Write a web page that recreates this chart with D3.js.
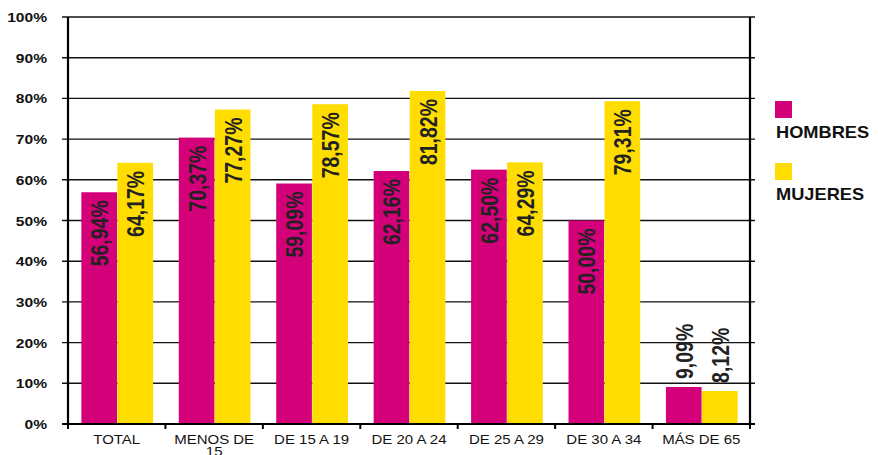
<!DOCTYPE html>
<html>
<head>
<meta charset="utf-8">
<script src="https://d3js.org/d3.v7.min.js"></script>
<style>
  body { margin: 0; background: #fff; }
  text { font-family: "Liberation Sans", Arial, sans-serif; }
</style>
</head>
<body>
<svg width="878" height="455"></svg>
<script>
// data
const categories = ["TOTAL", "MENOS DE 15", "DE 15 A 19", "DE 20 A 24", "DE 25 A 29", "DE 30 A 34", "MÁS DE 65"];
const hombres = [56.94, 70.37, 59.09, 62.16, 62.50, 50.00, 9.09];
const mujeres = [64.17, 77.27, 78.57, 81.82, 64.29, 79.31, 8.12];
const seriesNames = ["HOMBRES", "MUJERES"];
const colors = ["#d4007a", "#ffdd00"];
const yTicks = [0, 10, 20, 30, 40, 50, 60, 70, 80, 90, 100];

const svg = d3.select("svg");
const mLeft = 68, mRight = 750, mTop = 17, mBottom = 424;
const stretch = 1.2; // the original text looks widened horizontally

const x = d3.scaleBand().domain(categories).range([mLeft, mRight]).paddingInner(0).paddingOuter(0);
const inner = d3.scaleBand().domain(seriesNames).range([13, x.bandwidth() - 12]).padding(0.01);
const y = d3.scaleLinear().domain([0, 100]).range([mBottom, mTop]);

const fmt = v => v.toFixed(2).replace(".", ",") + "%";

// gridlines with outward ticks on both sides
svg.append("g").selectAll("line").data(yTicks.slice(1)).join("line")
  .attr("x1", mLeft - 6).attr("x2", mRight + 5)
  .attr("y1", d => y(d)).attr("y2", d => y(d))
  .attr("stroke", "#111").attr("stroke-width", 1.4);

// y labels
svg.append("g").selectAll("text").data(yTicks).join("text")
  .attr("transform", d => `translate(47,${y(d) + 5}) scale(${stretch},1)`)
  .attr("text-anchor", "end")
  .attr("font-size", 13).attr("font-weight", "bold").attr("fill", "#111")
  .text(d => d + "%");

// bars
const rows = categories.map((c, i) => ({ cat: c, vals: [hombres[i], mujeres[i]] }));
const groups = svg.append("g").selectAll("g").data(rows).join("g")
  .attr("transform", d => `translate(${x(d.cat)},0)`);

groups.selectAll("rect").data(d => d.vals.map((v, j) => ({ v, s: seriesNames[j], j })))
  .join("rect")
  .attr("x", d => inner(d.s))
  .attr("width", inner.bandwidth())
  .attr("y", d => y(d.v))
  .attr("height", d => y(0) - y(d.v))
  .attr("fill", d => colors[d.j]);

// value labels, rotated
groups.selectAll("text").data(d => d.vals.map((v, j) => ({ v, s: seriesNames[j], j })))
  .join("text")
  .attr("transform", d => {
    const cx = inner(d.s) + inner.bandwidth() / 2 + 9;
    const cy = d.v > 20 ? y(d.v) + 8 : y(d.v) - 8;
    return `translate(${cx},${cy}) scale(${stretch},1) rotate(-90)`;
  })
  .attr("text-anchor", d => d.v > 20 ? "end" : "start")
  .attr("font-size", 19.5).attr("font-weight", "bold").attr("fill", "#222")
  .text(d => fmt(d.v));

// axes lines
svg.append("line").attr("x1", mLeft).attr("x2", mLeft).attr("y1", mTop).attr("y2", mBottom + 1)
  .attr("stroke", "#000").attr("stroke-width", 2.2);
svg.append("line").attr("x1", mRight).attr("x2", mRight).attr("y1", mTop).attr("y2", mBottom + 1)
  .attr("stroke", "#000").attr("stroke-width", 2.2);
svg.append("line").attr("x1", mLeft - 6).attr("x2", mRight + 5).attr("y1", mBottom).attr("y2", mBottom)
  .attr("stroke", "#000").attr("stroke-width", 2.2);

// x ticks at category boundaries
const bounds = categories.map(c => x(c)).concat([mRight]);
svg.append("g").selectAll("line").data(bounds).join("line")
  .attr("x1", d => d).attr("x2", d => d).attr("y1", mBottom).attr("y2", mBottom + 5)
  .attr("stroke", "#000").attr("stroke-width", 2);

// x labels (wrap MENOS DE 15)
const xl = svg.append("g").selectAll("text").data(categories).join("text")
  .attr("transform", d => `translate(${x(d) + x.bandwidth() / 2},444) scale(${stretch},1)`)
  .attr("text-anchor", "middle").attr("font-size", 12.5).attr("fill", "#111");
xl.each(function (d) {
  const t = d3.select(this);
  const parts = d === "MENOS DE 15" ? ["MENOS DE", "15"] : [d];
  parts.forEach((p, k) => {
    t.append("tspan").attr("x", 0).attr("dy", k === 0 ? 0 : 12).text(p);
  });
});

// legend
const leg = svg.append("g").selectAll("g").data(seriesNames).join("g")
  .attr("transform", (d, i) => `translate(775,${101 + i * 62})`);
leg.append("rect").attr("width", 17).attr("height", 17).attr("fill", (d, i) => colors[i]);
leg.append("text").attr("transform", "translate(1,36.5) scale(1.14,1)")
  .attr("font-size", 16).attr("font-weight", "bold").attr("fill", "#111")
  .text(d => d);
</script>
</body>
</html>
